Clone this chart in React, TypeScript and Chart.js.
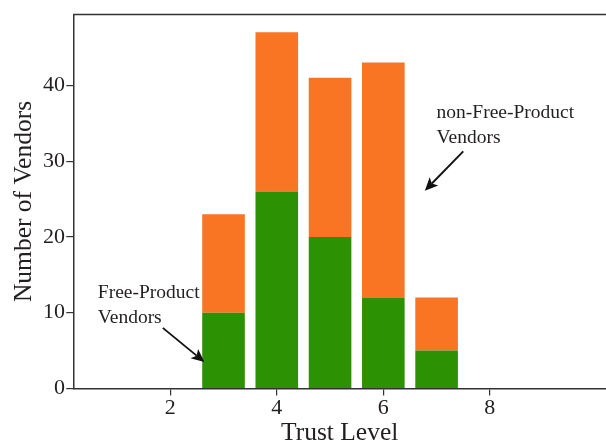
import { useEffect, useRef } from 'react';
import { Chart, registerables } from 'chart.js';

Chart.register(...registerables);

const trustLevels = [3, 4, 5, 6, 7];
const freeProductVendors = [10, 26, 20, 12, 5];
const nonFreeProductVendors = [13, 21, 21, 31, 7];
const xTickValues = [2, 4, 6, 8];
const yTickValues = [0, 10, 20, 30, 40];

const annotationTexts = [['Free-Product', 'Vendors'], ['non-Free-Product', 'Vendors']];
const annotationTextAt = [[0.64, 12.0], [7.0, 35.7]];
const arrowFrom = [[1.86, 8.0], [7.5, 31.3]];
const arrowTo = [[2.64, 3.5], [6.78, 26.1]];

const FONT = "'Liberation Serif', 'Times New Roman', serif";
const TEXT = '#231f20';
const AXIS = '#333333';

const overlayPlugin = {
  id: 'overlay',
  afterDraw(chart: any) {
    const { ctx, chartArea, scales } = chart;
    const xs = scales.x;
    const ys = scales.y;
    ctx.save();
    // top frame line
    ctx.strokeStyle = AXIS;
    ctx.lineWidth = 1.5;
    ctx.beginPath();
    ctx.moveTo(chartArea.left, chartArea.top);
    ctx.lineTo(chartArea.right, chartArea.top);
    ctx.stroke();

    ctx.font = `19.5px ${FONT}`;
    ctx.textAlign = 'left';
    ctx.textBaseline = 'alphabetic';
    annotationTexts.forEach((lines, i) => {
      ctx.fillStyle = TEXT;
      const tx = xs.getPixelForValue(annotationTextAt[i][0]);
      const ty = ys.getPixelForValue(annotationTextAt[i][1]);
      lines.forEach((line, j) => ctx.fillText(line, tx, ty + j * 25));

      const x1 = xs.getPixelForValue(arrowFrom[i][0]);
      const y1 = ys.getPixelForValue(arrowFrom[i][1]);
      const x2 = xs.getPixelForValue(arrowTo[i][0]);
      const y2 = ys.getPixelForValue(arrowTo[i][1]);
      const ang = Math.atan2(y2 - y1, x2 - x1);
      const cos = Math.cos(ang);
      const sin = Math.sin(ang);
      const headLen = 13;
      const headW = 6;
      const notch = 3;
      const bx = x2 - headLen * cos;
      const by = y2 - headLen * sin;
      ctx.strokeStyle = '#111';
      ctx.fillStyle = '#111';
      ctx.lineWidth = 1.9;
      ctx.beginPath();
      ctx.moveTo(x1, y1);
      ctx.lineTo(bx + notch * cos, by + notch * sin);
      ctx.stroke();
      ctx.beginPath();
      ctx.moveTo(x2, y2);
      ctx.lineTo(bx + headW * sin, by - headW * cos);
      ctx.lineTo(bx + notch * cos, by + notch * sin);
      ctx.lineTo(bx - headW * sin, by + headW * cos);
      ctx.closePath();
      ctx.fill();
    });
    ctx.restore();
  },
};

export default function App() {
  const canvasRef = useRef<HTMLCanvasElement>(null);

  useEffect(() => {
    if (!canvasRef.current) return;
    const chart = new Chart(canvasRef.current, {
      type: 'bar',
      data: {
        datasets: [
          {
            label: 'Free-Product Vendors',
            data: trustLevels.map((t, i) => ({ x: t, y: freeProductVendors[i] })),
            backgroundColor: '#2c9204',
            borderWidth: 0,
            barPercentage: 0.8,
            categoryPercentage: 1.0,
          },
          {
            label: 'non-Free-Product Vendors',
            data: trustLevels.map((t, i) => ({ x: t, y: nonFreeProductVendors[i] })),
            backgroundColor: '#f97524',
            borderWidth: 0,
            barPercentage: 0.8,
            categoryPercentage: 1.0,
          },
        ],
      },
      options: {
        responsive: false,
        animation: false,
        layout: { padding: { top: 12.7, left: 0, right: 0, bottom: 0 } },
        plugins: { legend: { display: false }, tooltip: { enabled: false } },
        scales: {
          x: {
            type: 'linear',
            stacked: true,
            min: 0.18,
            max: 10.18,
            offset: false,
            afterBuildTicks: (scale: any) => {
              scale.ticks = xTickValues.map((v) => ({ value: v }));
            },
            afterFit: (scale: any) => {
              scale.height = 54.5;
            },
            grid: {
              drawOnChartArea: false,
              drawTicks: true,
              tickLength: 7,
              color: AXIS,
              lineWidth: 1.2,
              offset: false,
            },
            border: { display: true, color: AXIS, width: 1.5 },
            ticks: {
              padding: 0,
              color: TEXT,
              font: { family: FONT, size: 22 },
              maxRotation: 0,
            },
            title: {
              display: true,
              text: 'Trust Level',
              color: TEXT,
              font: { family: FONT, size: 25.5 },
              padding: { top: 0, bottom: -5.7 },
            },
          },
          y: {
            type: 'linear',
            stacked: true,
            min: 0,
            max: 49.35,
            afterBuildTicks: (scale: any) => {
              scale.ticks = yTickValues.map((v) => ({ value: v }));
            },
            afterFit: (scale: any) => {
              scale.width = 73.3;
            },
            grid: {
              drawOnChartArea: false,
              drawTicks: true,
              tickLength: 7,
              color: AXIS,
              lineWidth: 1.2,
            },
            border: { display: true, color: AXIS, width: 1.5 },
            ticks: {
              padding: 1.3,
              color: TEXT,
              font: { family: FONT, size: 22 },
            },
            title: {
              display: true,
              text: 'Number of Vendors',
              color: TEXT,
              font: { family: FONT, size: 25.5 },
              padding: { top: 9.1, bottom: 0 },
            },
          },
        },
      },
      plugins: [overlayPlugin],
    });
    return () => chart.destroy();
  }, []);

  return (
    <div style={{ position: 'absolute', left: 0, top: 0, width: 606, height: 443, background: '#fff' }}>
      <canvas ref={canvasRef} width={606} height={443} />
    </div>
  );
}
